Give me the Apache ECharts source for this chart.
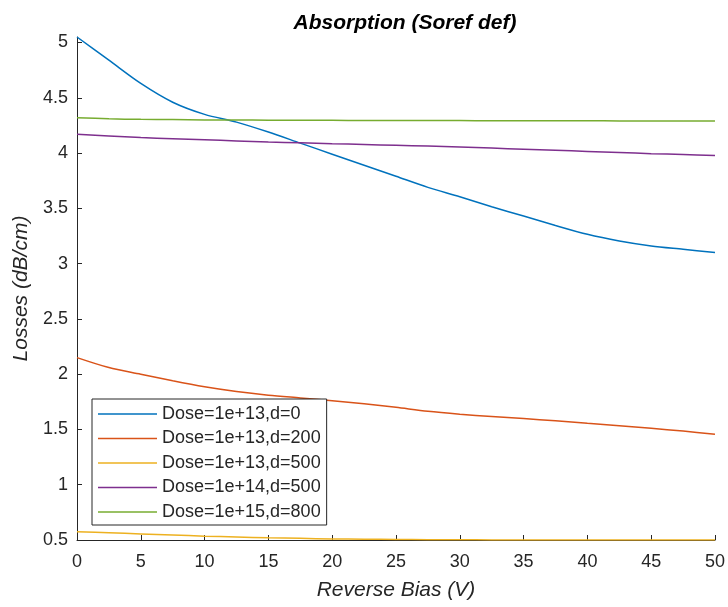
<!DOCTYPE html>
<html>
<head>
<meta charset="utf-8">
<script src="https://cdn.jsdelivr.net/npm/echarts@6/dist/echarts.min.js"></script>
<style>
html,body{margin:0;padding:0;background:#fff;}
#c{width:728px;height:607px;}
</style>
</head>
<body>
<div id="c"></div>
<script>
const xValues = [0,2.5,5,7.5,10,12.5,15,17.5,20,22.5,25,27.5,30,32.5,35,37.5,40,42.5,45,47.5,50];
const seriesNames = ['Dose=1e+13,d=0','Dose=1e+13,d=200','Dose=1e+13,d=500','Dose=1e+14,d=500','Dose=1e+15,d=800'];
const dose13d0   = [5.05,4.84,4.63,4.46,4.35,4.28,4.19,4.09,3.99,3.89,3.79,3.69,3.605,3.515,3.43,3.345,3.265,3.205,3.16,3.13,3.10];
const dose13d200 = [2.15,2.06,2.00,1.94,1.886,1.843,1.81,1.785,1.76,1.733,1.70,1.664,1.638,1.617,1.598,1.578,1.555,1.533,1.51,1.485,1.457];
const dose13d500 = [0.575,0.565,0.555,0.545,0.535,0.527,0.52,0.515,0.51,0.507,0.505,0.503,0.502,0.501,0.5,0.5,0.5,0.5,0.5,0.5,0.5];
const dose14d500 = [4.17,4.155,4.14,4.13,4.12,4.11,4.10,4.093,4.085,4.078,4.07,4.063,4.055,4.045,4.035,4.025,4.015,4.005,3.995,3.987,3.978];
const dose15d800 = [4.32,4.31,4.305,4.303,4.30,4.30,4.298,4.297,4.296,4.295,4.295,4.294,4.294,4.293,4.293,4.292,4.292,4.291,4.291,4.29,4.29];
const yTicks = [0.5,1,1.5,2,2.5,3,3.5,4,4.5,5];
const xTicks = [0,5,10,15,20,25,30,35,40,45,50];

const allSeries = [dose13d0, dose13d200, dose13d500, dose14d500, dose15d800];
const colors = ['#0072BD','#D95319','#EDB120','#7E2F8E','#77AC30'];
const axisColor = '#262626';
const font = '"Liberation Sans", Arial, Helvetica, sans-serif';

const chart = echarts.init(document.getElementById('c'));
chart.setOption({
  animation: false,
  backgroundColor: '#fff',
  color: colors,
  title: {
    text: 'Absorption (Soref def)',
    left: 400, top: 8, textAlign: 'center',
    textStyle: {fontFamily: font, fontSize: 21, fontWeight: 'bold', fontStyle: 'italic', color: '#000'}
  },
  grid: {left: 77, right: 11, top: 37, bottom: 67, containLabel: false},
  legend: {
    left: 92, top: 399, orient: 'vertical',
    data: seriesNames,
    icon: 'rect', itemWidth: 59, itemHeight: 1.5, itemGap: 4.5,
    padding: [5, 6, 3, 6],
    borderColor: axisColor, borderWidth: 1, backgroundColor: '#fff',
    textStyle: {fontFamily: font, fontSize: 18, color: axisColor, lineHeight: 20}
  },
  xAxis: {
    type: 'value', min: 0, max: 50, interval: 5,
    name: 'Reverse Bias (V)', nameLocation: 'middle', nameGap: 40,
    nameTextStyle: {fontFamily: font, fontSize: 21, fontStyle: 'italic', color: axisColor},
    axisLine: {show: true, lineStyle: {color: axisColor, width: 1}},
    axisTick: {show: true, inside: true, length: 5, lineStyle: {color: axisColor}, customValues: xTicks},
    axisLabel: {fontFamily: font, fontSize: 18, color: axisColor, margin: 13, customValues: xTicks},
    splitLine: {show: false}
  },
  yAxis: {
    type: 'value', min: 0.5, max: 5.05, interval: 0.5,
    name: 'Losses (dB/cm)', nameLocation: 'middle', nameGap: 45,
    nameTextStyle: {fontFamily: font, fontSize: 21, fontStyle: 'italic', color: axisColor},
    axisLine: {show: true, lineStyle: {color: axisColor, width: 1}},
    axisTick: {show: true, inside: true, length: 5, lineStyle: {color: axisColor}, customValues: yTicks},
    axisLabel: {fontFamily: font, fontSize: 18, color: axisColor, margin: 9, customValues: yTicks},
    splitLine: {show: false}
  },
  series: allSeries.map((vals, i) => ({
    name: seriesNames[i],
    type: 'line',
    data: xValues.map((x, j) => [x, vals[j]]),
    showSymbol: false,
    smooth: 0.3,
    lineStyle: {width: 1.5, color: colors[i]},
    itemStyle: {color: colors[i]}
  }))
});
</script>
</body>
</html>
